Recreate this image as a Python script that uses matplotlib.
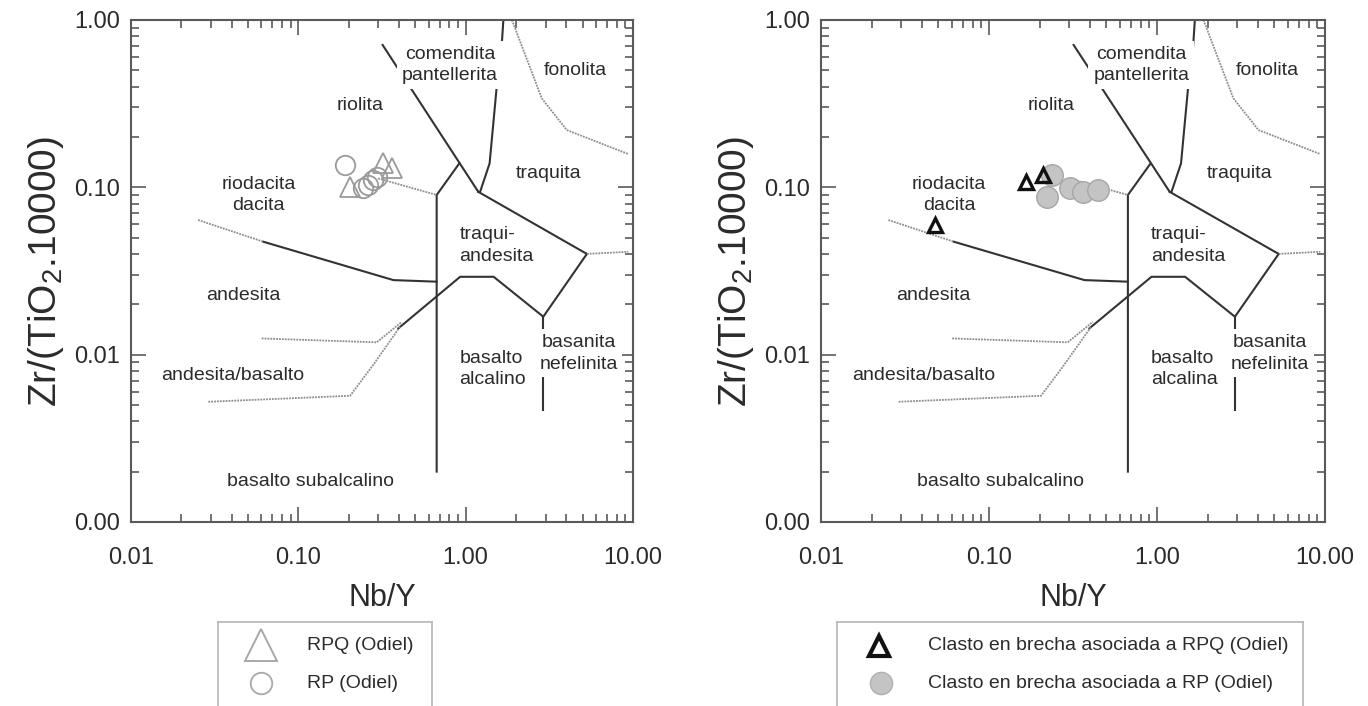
import matplotlib
matplotlib.use('Agg')
import matplotlib.pyplot as plt
from matplotlib.ticker import LogLocator, FuncFormatter, NullFormatter

plt.rcParams['font.family'] = ['Liberation Sans', 'DejaVu Sans']

# ---------------- data ----------------
rpq_nby = [0.322, 0.361, 0.204]
rpq_zr = [0.139, 0.130, 0.101]
rp_nby = [0.19, 0.245, 0.262, 0.281, 0.294]
rp_zr = [0.136, 0.0986, 0.103, 0.111, 0.116]

clasto_rpq_nby = [0.167, 0.209, 0.048]
clasto_rpq_zr = [0.108, 0.118, 0.0595]
clasto_rp_nby = [0.236, 0.220, 0.303, 0.364, 0.448]
clasto_rp_zr = [0.118, 0.088, 0.0986, 0.094, 0.0964]

# classification field boundaries (Nb/Y, Zr/TiO2)
solid_riolita_comendita = [(0.319, 0.709), (1.19, 0.094)]
solid_comendita_fonolita = [(1.68, 1.0), (1.64, 0.692), (1.53, 0.391), (1.39, 0.139), (1.22, 0.094)]
solid_traquita = [(1.19, 0.094), (5.30, 0.040)]
solid_riolita_traqui = [(0.916, 0.139), (0.671, 0.090), (0.671, 0.0020)]
solid_andesita = [(0.0618, 0.0473), (0.370, 0.0279), (0.671, 0.0273)]
solid_alcalino = [(0.396, 0.01436), (0.927, 0.0292), (1.47, 0.0292), (2.91, 0.01686), (5.30, 0.040)]
solid_basanita = [(2.91, 0.01686), (2.91, 0.00467)]
dotted_fonolita = [(1.89, 1.0), (2.85, 0.340), (4.02, 0.220), (9.38, 0.158)]
dotted_traquita = [(5.30, 0.040), (9.38, 0.0412)]
dotted_riodacita = [(0.30, 0.113), (0.671, 0.090)]
dotted_andesita = [(0.0252, 0.0638), (0.0618, 0.0473)]
dotted_andbas_up = [(0.0604, 0.0125), (0.294, 0.01185), (0.415, 0.0157)]
dotted_andbas_low = [(0.029, 0.00523), (0.204, 0.00568), (0.275, 0.00847), (0.406, 0.0147)]

solid_lines = [solid_riolita_comendita, solid_comendita_fonolita, solid_traquita,
               solid_riolita_traqui, solid_andesita, solid_alcalino, solid_basanita]
dotted_lines = [dotted_fonolita, dotted_traquita, dotted_riodacita, dotted_andesita,
                dotted_andbas_up, dotted_andbas_low]

field_labels = [
    ("comendita\npantellerita", 0.807, 0.538, 'center', True),
    ("fonolita", 4.51, 0.496, 'center', False),
    ("riolita", 0.234, 0.310, 'center', False),
    ("traquita", 3.12, 0.121, 'center', False),
    ("riodacita\ndacita", 0.0577, 0.090, 'center', False),
    ("traqui-\nandesita", 0.92, 0.0448, 'left', False),
    ("andesita", 0.0469, 0.0227, 'center', False),
    ("andesita/basalto", 0.0407, 0.00755, 'center', False),
    ("basanita\nnefelinita", 4.72, 0.0102, 'center', True),
    ("basalto subalcalino", 0.1175, 0.00174, 'center', False),
]
alcal_label_left = "basalto\nalcalino"
alcal_label_right = "basalto\nalcalina"

W, H = 1368, 706
fig = plt.figure(figsize=(W / 100, H / 100), dpi=100)

SPINE = '#5a5a5a'
LINE = '#333333'
DOT = '#8c8c8c'
TXT = '#2b2b2b'


def setup(ax, alcal_text):
    ax.set_xscale('log')
    ax.set_yscale('log')
    ax.set_xlim(0.01, 10)
    ax.set_ylim(0.001, 1)
    for s in ax.spines.values():
        s.set_color(SPINE)
        s.set_linewidth(1.5)
    ax.xaxis.set_major_locator(LogLocator(base=10))
    ax.yaxis.set_major_locator(LogLocator(base=10))
    ax.xaxis.set_minor_locator(LogLocator(base=10, subs=range(2, 10)))
    ax.yaxis.set_minor_locator(LogLocator(base=10, subs=range(2, 10)))
    fmt = FuncFormatter(lambda v, p: f"{v:.2f}")
    ax.xaxis.set_major_formatter(fmt)
    ax.yaxis.set_major_formatter(fmt)
    ax.xaxis.set_minor_formatter(NullFormatter())
    ax.yaxis.set_minor_formatter(NullFormatter())
    ax.tick_params(which='both', direction='in', top=True, right=True,
                   color=SPINE, width=1.2, labelsize=17, labelcolor=TXT)
    ax.tick_params(which='major', length=11)
    ax.tick_params(axis='x', which='major', pad=18)
    ax.tick_params(axis='y', which='major', pad=8)
    ax.tick_params(which='minor', length=6)
    ax.set_xlabel("Nb/Y", fontsize=22, color=TXT, labelpad=10)
    ax.set_ylabel("Zr/(TiO$_{\\mathregular{2}}$.10000)", fontsize=28, color=TXT, labelpad=6)

    for seg in solid_lines:
        xs, ys = zip(*seg)
        ax.plot(xs, ys, color=LINE, lw=1.5, zorder=2, solid_joinstyle='miter')
    for seg in dotted_lines:
        xs, ys = zip(*seg)
        ax.plot(xs, ys, color=DOT, lw=1.3, ls=(0, (1, 0.6)), zorder=2)

    for txt, x, y, ha, box in field_labels:
        kw = {}
        if box:
            kw['bbox'] = dict(boxstyle='square,pad=0.25', fc='white', ec='none')
        ax.text(x, y, txt, ha=ha, va='center', fontsize=14, color=TXT,
                linespacing=1.35, multialignment=ha, zorder=3, **kw)
    ax.text(0.92, 0.0082, alcal_text, ha='left', va='center', fontsize=14,
            color=TXT, linespacing=1.35, multialignment='left', zorder=3)


axL = fig.add_axes([131 / W, 1 - 522 / H, 502 / W, 502 / H])
axR = fig.add_axes([821 / W, 1 - 522 / H, 504 / W, 502 / H])
setup(axL, alcal_label_left)
setup(axR, alcal_label_right)

# left data
axL.plot(rp_nby, rp_zr, ls='none', marker='o', ms=14, mfc='none', mec='#9a9a9a', mew=1.3, zorder=4)
axL.plot(rpq_nby, rpq_zr, ls='none', marker='^', ms=14, mfc='none', mec='#9a9a9a', mew=1.3, zorder=4)

# right data
axR.plot(clasto_rp_nby, clasto_rp_zr, ls='none', marker='o', ms=15.5, mfc='#c4c4c4', mec='#a6a6a6', mew=1.0, zorder=4)
axR.plot(clasto_rpq_nby, clasto_rpq_zr, ls='none', marker='^', ms=10.5, mfc='none', mec='#111111', mew=2.4, zorder=5)


# legends
def legend_box(rect):
    lg = fig.add_axes(rect)
    lg.set_xlim(0, rect[2] * W)
    lg.set_ylim(0, rect[3] * H)
    lg.set_xticks([])
    lg.set_yticks([])
    for s in lg.spines.values():
        s.set_color('#b5b5b5')
        s.set_linewidth(1.2)
    return lg


h = (706 - 622) + 0.01 * H
lgL = legend_box([218 / W, -0.01, 214 / W, (706 - 622) / H + 0.01])
lgL.plot([261 - 218], [h - (645 - 622)], marker='^', ms=23, mfc='none', mec='#a8a8a8', mew=1.4, ls='none')
lgL.plot([261 - 218], [h - (683 - 622)], marker='o', ms=15.5, mfc='none', mec='#a8a8a8', mew=1.3, ls='none')
lgL.text(307 - 218, h - (645 - 622), "RPQ (Odiel)", fontsize=14, va='center', color=TXT)
lgL.text(307 - 218, h - (683 - 622), "RP (Odiel)", fontsize=14, va='center', color=TXT)

lgR = legend_box([837 / W, -0.01, 466 / W, (706 - 622) / H + 0.01])
lgR.plot([879 - 837], [h - (646 - 622)], marker='^', ms=14, mfc='none', mec='#111111', mew=3, ls='none')
lgR.plot([881 - 837], [h - (683 - 622)], marker='o', ms=16, mfc='#c4c4c4', mec='#b0b0b0', mew=1, ls='none')
lgR.text(928 - 837, h - (646 - 622), "Clasto en brecha asociada a RPQ (Odiel)", fontsize=14, va='center', color=TXT)
lgR.text(928 - 837, h - (683 - 622), "Clasto en brecha asociada a RP (Odiel)", fontsize=14, va='center', color=TXT)

fig.savefig('out.png', dpi=100)
